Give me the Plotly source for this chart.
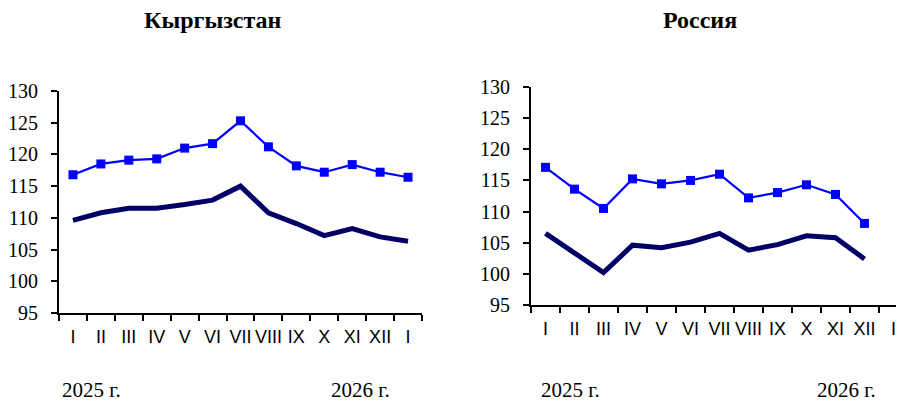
import plotly.graph_objects as go

months = ["I", "II", "III", "IV", "V", "VI", "VII", "VIII", "IX", "X", "XI", "XII", "I"]
years = ["2025 г.", "2026 г."]

kg_blue = [116.8, 118.5, 119.1, 119.3, 121.0, 121.7, 125.3, 121.2, 118.2, 117.2, 118.4, 117.2, 116.4]
kg_dark = [109.6, 110.8, 111.5, 111.5, 112.1, 112.8, 115.0, 110.8, 109.1, 107.2, 108.3, 107.0, 106.3]

ru_blue = [117.1, 113.6, 110.5, 115.25, 114.45, 115.0, 116.0, 112.2, 113.05, 114.3, 112.75, 108.1]
ru_dark = [106.5, 103.4, 100.2, 104.6, 104.2, 105.1, 106.5, 103.8, 104.7, 106.1, 105.8, 102.4]

titles = ["Кыргызстан", "Россия"]

# page body has an 8px margin: figure drawn at (8, 8)
OFF = 8
W, H = 904 - OFF, 407 - OFF
SERIF = "Liberation Serif, Times New Roman, serif"
NARROW = "Liberation Sans Narrow, Liberation Sans"
BLUE = "#0000FF"
DARK = "#000066"

fig = go.Figure()
xs_kg = list(range(len(kg_blue)))
xs_ru = list(range(len(ru_blue)))

fig.add_trace(go.Scatter(x=xs_kg, y=kg_dark, mode="lines", line=dict(color=DARK, width=5),
                         xaxis="x", yaxis="y", showlegend=False, hoverinfo="skip"))
fig.add_trace(go.Scatter(x=xs_kg, y=kg_blue, mode="lines+markers", line=dict(color=BLUE, width=2.2),
                         marker=dict(symbol="square", size=9, color=BLUE),
                         xaxis="x", yaxis="y", showlegend=False, hoverinfo="skip"))
fig.add_trace(go.Scatter(x=xs_ru, y=ru_dark, mode="lines", line=dict(color=DARK, width=5),
                         xaxis="x2", yaxis="y2", showlegend=False, hoverinfo="skip"))
fig.add_trace(go.Scatter(x=xs_ru, y=ru_blue, mode="lines+markers", line=dict(color=BLUE, width=2.2),
                         marker=dict(symbol="square", size=9, color=BLUE),
                         xaxis="x2", yaxis="y2", showlegend=False, hoverinfo="skip"))

def xaxis(domain, anchor, rng):
    return dict(domain=domain, anchor=anchor, range=rng, showgrid=False, zeroline=False,
                showline=True, linecolor="black", linewidth=2, automargin=False,
                tickmode="array", tickvals=list(range(len(months))), ticktext=months,
                tickangle=0, ticks="", ticklabelstandoff=6,
                tickfont=dict(family=NARROW, size=18, color="black"),
                minor=dict(tickmode="linear", tick0=0.5, dtick=1, ticks="outside",
                           ticklen=6, tickwidth=2, tickcolor="black", showgrid=False))

def yaxis(domain, anchor):
    return dict(domain=domain, anchor=anchor, range=[95, 130], dtick=5, tick0=95,
                showgrid=False, zeroline=False, showline=True, linecolor="black", linewidth=2,
                automargin=False, ticklabelstandoff=9,
                ticks="outside", ticklen=6, tickwidth=2, tickcolor="black",
                tickfont=dict(family=SERIF, size=20, color="black"))

def px_x(v):
    return (v - OFF) / W

def px_y(v):
    return 1 - (v - OFF) / H

# screen px: left plot x 59..422, y 91..313 ; right plot x 531..(908), y 87..305
ru_end = -0.5 + (904 - 531) / 29.0
fig.update_layout(
    width=W, height=H, margin=dict(l=0, r=0, t=0, b=0, autoexpand=False),
    paper_bgcolor="white", plot_bgcolor="white",
    xaxis=xaxis([px_x(59), px_x(422)], "y", [-0.5, 12.5]),
    yaxis=yaxis([px_y(313), px_y(91)], "x"),
    xaxis2=xaxis([px_x(531), 1.0], "y2", [-0.5, ru_end]),
    yaxis2=yaxis([px_y(305), px_y(87)], "x2"),
)

ann = [
    (titles[0], 213, 20, True),
    (titles[1], 700, 20, True),
    (years[0], 91, 390, False),
    (years[1], 360, 390, False),
    (years[0], 570, 390, False),
    (years[1], 846, 390, False),
]
for text, px, py, bold in ann:
    fig.add_annotation(text=f"<b>{text}</b>" if bold else text, x=px_x(px), y=px_y(py),
                       xref="paper", yref="paper", showarrow=False,
                       xanchor="center", yanchor="middle",
                       font=dict(family=SERIF, size=24 if bold else 21, color="black"))

fig.write_html("out.html")
